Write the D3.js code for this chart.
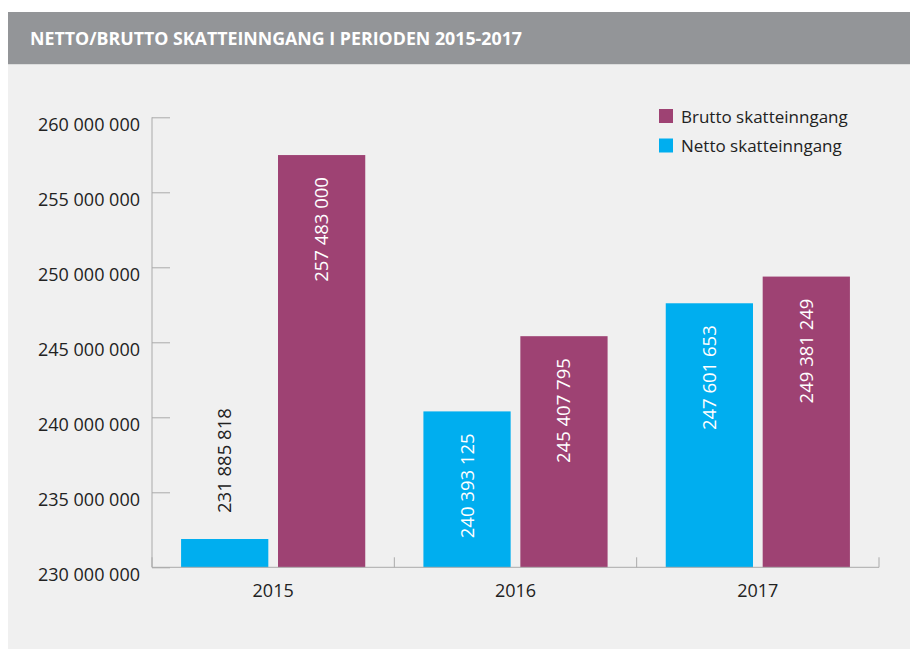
<!DOCTYPE html>
<html><head><meta charset="utf-8">
<script src="https://cdn.jsdelivr.net/npm/d3@7"></script>
<style>html,body{margin:0;padding:0;background:#fff;}svg{display:block;}</style>
</head><body>
<svg id="chart" width="910" height="649"></svg>
<script>
const title = "NETTO/BRUTTO SKATTEINNGANG I PERIODEN 2015-2017";
const years = ["2015", "2016", "2017"];
const seriesNames = ["Netto skatteinngang", "Brutto skatteinngang"];
const nettoValues = [231885818, 240393125, 247601653];
const bruttoValues = [257483000, 245407795, 249381249];
const yTicks = [230000000, 235000000, 240000000, 245000000, 250000000, 255000000, 260000000];
const colors = ["#00AEEF", "#9E4273"];

(function () {
const svg = d3.select("#chart");
const fmt = v => d3.format(",")(v).replace(/,/g, " ");
const font = "'Open Sans', sans-serif";

// header + panel
svg.append("rect").attr("x", 8).attr("y", 12).attr("width", 902).attr("height", 52.5).attr("fill", "#939598");
svg.append("rect").attr("x", 8).attr("y", 64.5).attr("width", 902).attr("height", 584.5).attr("fill", "#f0f0f0");
svg.append("text").attr("x", 30).attr("y", 45).text(title)
  .attr("fill", "#fff").attr("font-family", font)
  .attr("font-weight", "bold").attr("font-size", 17)
  .attr("textLength", 492).attr("lengthAdjust", "spacingAndGlyphs");

const pLeft = 152, pRight = 879, pTop = 117.3, pBottom = 567.3;
const y = d3.scaleLinear().domain([230000000, 260000000]).range([pBottom, pTop]);
const x0 = d3.scaleBand().domain(years).range([pLeft, pRight]).padding(0);
const x1 = d3.scaleBand().domain(seriesNames).range([0, x0.bandwidth()]).paddingInner(0.1).paddingOuter(0.3);

const data = years.map((yr, i) => ({year: yr, values: [
  {name: seriesNames[0], value: nettoValues[i], ci: 0},
  {name: seriesNames[1], value: bruttoValues[i], ci: 1}
]}));

// y axis
const yAxis = d3.axisRight(y).tickValues(yTicks).tickSize(18).tickFormat("");
const yg = svg.append("g").attr("transform", `translate(${pLeft},0)`).call(yAxis);
yg.selectAll("path,line").attr("stroke", "#aaa");
yg.select(".domain").attr("d", `M0,${pTop}V${pBottom}`);
svg.append("g").selectAll("text").data(yTicks).join("text")
  .attr("x", 140).attr("y", d => y(d) + 13.5).attr("text-anchor", "end")
  .attr("font-family", font).attr("font-size", 18).attr("fill", "#222").text(fmt);

// bars
const groups = svg.append("g").selectAll("g").data(data).join("g")
  .attr("transform", d => `translate(${x0(d.year)},0)`);
groups.selectAll("rect").data(d => d.values).join("rect")
  .attr("x", d => x1(d.name)).attr("width", x1.bandwidth())
  .attr("y", d => y(d.value)).attr("height", d => pBottom - y(d.value))
  .attr("fill", d => colors[d.ci]);

// value labels
const isInside = d => pBottom - y(d.value) > 140;
groups.selectAll("text").data(d => d.values).join("text")
  .attr("transform", d => {
    const cx = x1(d.name) + x1.bandwidth() / 2;
    const yy = isInside(d) ? y(d.value) + 22 : y(d.value) - 26;
    return `translate(${cx},${yy}) rotate(-90)`;
  })
  .attr("text-anchor", d => isInside(d) ? "end" : "start")
  .attr("dy", "0.35em")
  .attr("font-family", font).attr("font-size", 18.5)
  .attr("fill", d => isInside(d) ? "#fff" : "#222")
  .text(d => fmt(d.value));

// x axis
const xg = svg.append("g").attr("transform", `translate(0,${pBottom})`);
xg.append("line").attr("x1", pLeft).attr("x2", pRight).attr("stroke", "#aaa");
const bounds = years.map(yr => x0(yr)).concat([pRight]);
xg.selectAll(".tk").data(bounds).join("line").attr("class", "tk")
  .attr("x1", d => d).attr("x2", d => d).attr("y1", 0).attr("y2", -10).attr("stroke", "#aaa");
xg.selectAll("text").data(years).join("text")
  .attr("x", d => x0(d) + x0.bandwidth() / 2).attr("y", 30).attr("text-anchor", "middle")
  .attr("font-family", font).attr("font-size", 18).attr("fill", "#222").text(d => d);

// legend
const legendItems = [{name: seriesNames[1], ci: 1}, {name: seriesNames[0], ci: 0}];
const lg = svg.append("g").selectAll("g").data(legendItems).join("g")
  .attr("transform", (d, i) => `translate(659,${109 + i * 29.5})`);
lg.append("rect").attr("width", 14).attr("height", 14).attr("fill", d => colors[d.ci]);
lg.append("text").attr("x", 22).attr("y", 13.5).attr("font-family", font).attr("font-size", 17)
  .attr("fill", "#222").text(d => d.name);
})();
</script>
</body></html>
